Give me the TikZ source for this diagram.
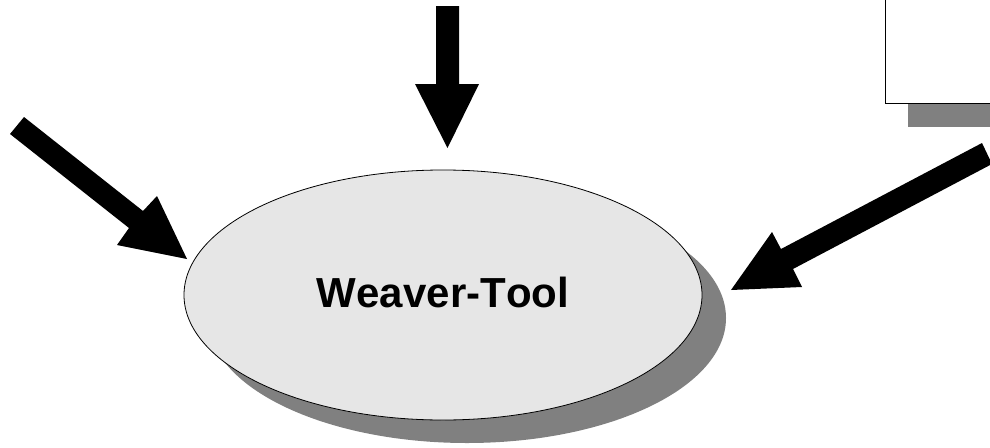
\documentclass[tikz,border=0pt]{standalone}
\usepackage{fontspec}
\setmainfont{Liberation Sans}[Kerning=Off]
\usetikzlibrary{shapes.geometric}
\definecolor{shadowgray}{HTML}{808080}
\definecolor{bodygray}{HTML}{E6E6E6}
\tikzset{
  blockarrow/.style={fill=black,draw=none},
  toolshadow/.style={ellipse,fill=shadowgray,draw=none,minimum width=518pt,minimum height=250pt,inner sep=0pt},
  toolbody/.style={ellipse,fill=bodygray,draw=black,line width=0.8pt,minimum width=518pt,minimum height=250pt,inner sep=0pt,text height=24pt,text depth=0pt,font=\bfseries\fontsize{42}{48}\selectfont},
  boxshadow/.style={fill=shadowgray,draw=none},
  framebox/.style={fill=white,draw=black,line width=1pt}
}
\begin{document}
\begin{tikzpicture}[x=1pt,y=-1pt]
\useasboundingbox (0,0) rectangle (990,447);
\clip (0,0) rectangle (990,447);
% box at the top right, cut off by the page
\fill[boxshadow] (908,100) rectangle (995,126.5);
\draw[framebox] (995,-5) -- (885.5,-5) -- (885.5,103.5) -- (995,103.5);
% tool ellipse with its shadow
\node[toolshadow] (toolshade) at (467,318) {};
\node[toolbody] (tool) at (443,295) {Weaver-Tool};
% block arrows
\fill[blockarrow] (436,6) -- (459,6) -- (459,84) -- (479,84) -- (447.5,148) -- (415,84) -- (436,84) -- cycle;
\fill[blockarrow] (24,117) -- (143,211) -- (157,196) -- (187,259) -- (117,245) -- (129,228) -- (10,134) -- cycle;
\fill[blockarrow] (982,143) -- (781,249) -- (772,232) -- (731,290) -- (802,287) -- (793,269) -- (992,164) -- cycle;
\end{tikzpicture}
\end{document}
